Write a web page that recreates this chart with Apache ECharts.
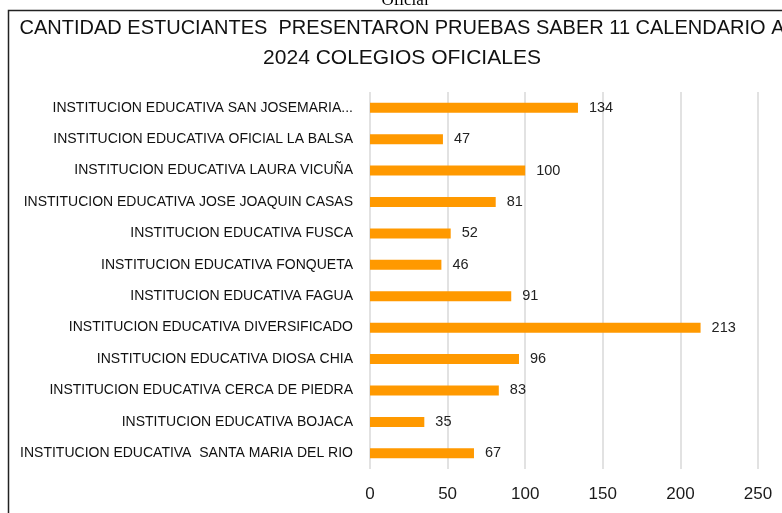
<!DOCTYPE html>
<html>
<head>
    <meta charset="UTF-8">
    <title>Pruebas Saber 11</title>
    <script type="text/javascript" src="https://cdn.jsdelivr.net/npm/echarts@6/dist/echarts.min.js"></script>
    <style>
        html, body { margin: 0; padding: 0; background: #ffffff; }
        #main { width: 782px; height: 513px; }
    </style>
</head>
<body>
    <div id="main"></div>
    <script>
        // colegios (de arriba hacia abajo)
        var colegios = [
            'INSTITUCION EDUCATIVA SAN JOSEMARIA...',
            'INSTITUCION EDUCATIVA OFICIAL LA BALSA',
            'INSTITUCION EDUCATIVA LAURA VICUÑA',
            'INSTITUCION EDUCATIVA JOSE JOAQUIN CASAS',
            'INSTITUCION EDUCATIVA FUSCA',
            'INSTITUCION EDUCATIVA FONQUETA',
            'INSTITUCION EDUCATIVA FAGUA',
            'INSTITUCION EDUCATIVA DIVERSIFICADO',
            'INSTITUCION EDUCATIVA DIOSA CHIA',
            'INSTITUCION EDUCATIVA CERCA DE PIEDRA',
            'INSTITUCION EDUCATIVA BOJACA',
            'INSTITUCION EDUCATIVA  SANTA MARIA DEL RIO'
        ];
        var estudiantes = [134, 47, 100, 81, 52, 46, 91, 213, 96, 83, 35, 67];

        var tituloLinea1 = 'CANTIDAD ESTUCIANTES  PRESENTARON PRUEBAS SABER 11 CALENDARIO A';
        var tituloLinea2 = '2024 COLEGIOS OFICIALES';

        var chart = echarts.init(document.getElementById('main'), null, {renderer: 'canvas'});
        var option = {
            animation: false,
            title: {
                text: '{a|' + tituloLinea1 + '}\n{b|' + tituloLinea2 + '}',
                left: 402,
                top: 13,
                textAlign: 'center',
                padding: 0,
                textStyle: {
                    fontFamily: 'Liberation Sans',
                    fontWeight: 'normal',
                    color: '#111',
                    rich: {
                        a: {fontFamily: 'Liberation Sans', fontSize: 20, lineHeight: 30, color: '#111'},
                        b: {fontFamily: 'Liberation Sans', fontSize: 21, lineHeight: 30, color: '#111'}
                    }
                }
            },
            graphic: [
                {
                    type: 'rect',
                    shape: {x: 8.5, y: 10.5, width: 900, height: 700},
                    style: {fill: 'none', stroke: '#222', lineWidth: 1.5},
                    silent: true
                },
                {
                    type: 'text',
                    x: 405,
                    y: 9,
                    style: {
                        text: 'Oficial',
                        font: '17px "Liberation Serif"',
                        fill: '#000',
                        textAlign: 'center',
                        textVerticalAlign: 'bottom'
                    }
                }
            ],
            grid: {left: 370, right: 24, top: 92, bottom: 44, containLabel: false},
            xAxis: {
                type: 'value',
                min: 0,
                max: 250,
                interval: 50,
                axisLine: {show: false},
                axisTick: {show: false},
                axisLabel: {
                    margin: 17,
                    fontFamily: 'Liberation Sans',
                    fontSize: 17,
                    color: '#1a1a1a'
                },
                splitLine: {lineStyle: {color: '#d9d9d9', width: 1.5}}
            },
            yAxis: {
                type: 'category',
                inverse: true,
                data: colegios,
                axisLine: {show: false},
                axisTick: {show: false},
                axisLabel: {
                    margin: 17,
                    fontFamily: 'Liberation Sans',
                    fontSize: 14,
                    color: '#111'
                }
            },
            series: [
                {
                    type: 'bar',
                    data: estudiantes,
                    barWidth: 10,
                    itemStyle: {color: '#ff9900'},
                    label: {
                        show: true,
                        position: 'right',
                        distance: 11,
                        fontFamily: 'Liberation Sans',
                        fontSize: 14.5,
                        color: '#222'
                    }
                }
            ]
        };
        chart.setOption(option);
    </script>
</body>
</html>
